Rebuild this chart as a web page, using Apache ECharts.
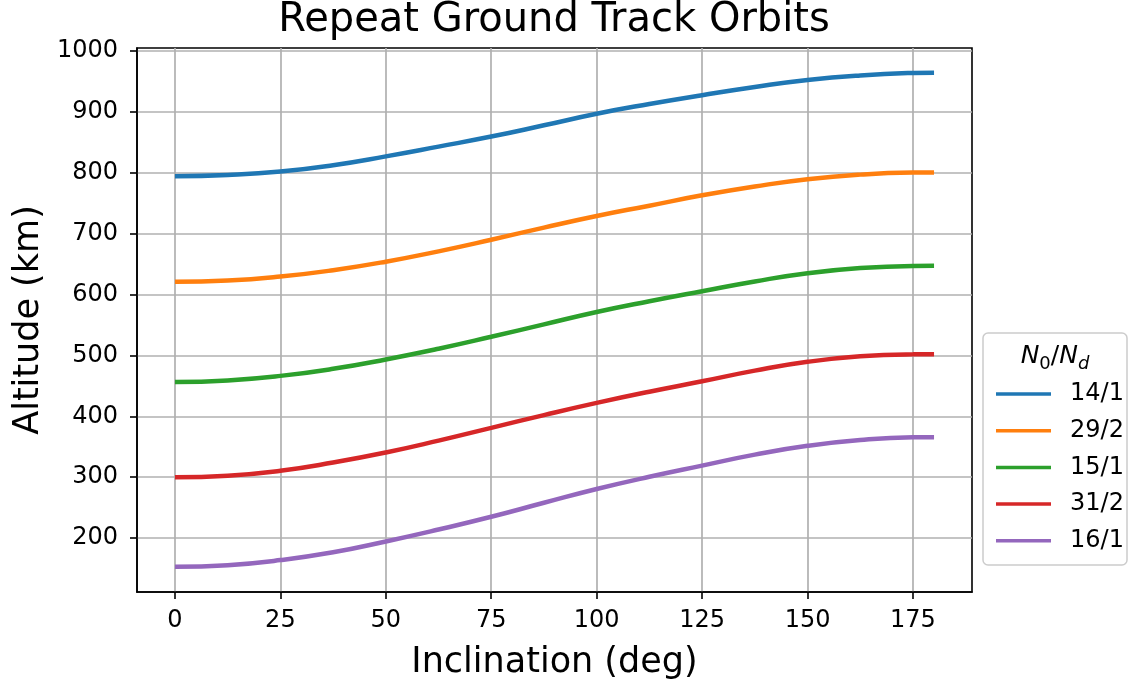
<!DOCTYPE html>
<html>
<head>
<meta charset="utf-8">
<script src="https://cdn.jsdelivr.net/npm/echarts@6/dist/echarts.min.js"></script>
<style>
html,body{margin:0;padding:0;background:#fff;}
#chart{width:1128px;height:684px;}
</style>
</head>
<body>
<div id="chart"></div>
<script>
// Data
const inclination = [0, 12.5, 25, 37.5, 50, 62.5, 75, 87.5, 100, 112.5, 125, 137.5, 150, 162.5, 175, 180];
const alt14_1 = [794.5, 796.5, 802, 812.5, 827, 843, 859.5, 878, 897, 913, 927.5, 941, 952.5, 960, 964, 964.5];
const alt29_2 = [621, 623, 629.5, 640, 654, 671, 690, 710, 729, 746, 763, 777.5, 789.5, 797, 800.3, 800.5];
const alt15_1 = [456.5, 459, 466.4, 478, 493.4, 511, 530.6, 551, 571.3, 589, 605.5, 621.5, 635, 643.5, 647, 647.2];
const alt31_2 = [300, 302.5, 310.5, 324, 340.5, 360, 381, 402, 422, 440.4, 457.5, 475, 489.5, 498.5, 501.8, 502];
const alt16_1 = [152.7, 155.5, 163.8, 176.6, 194.4, 214, 235, 258, 280.6, 300.7, 319, 337, 351.5, 361, 365.4, 365.6];
const seriesNames = ['14/1', '29/2', '15/1', '31/2', '16/1'];
const seriesValues = [alt14_1, alt29_2, alt15_1, alt31_2, alt16_1];
const colors = ['#1f77b4', '#ff7f0e', '#2ca02c', '#d62728', '#9467bd'];
const xTicks = [0, 25, 50, 75, 100, 125, 150, 175];
const yTicks = [200, 300, 400, 500, 600, 700, 800, 900, 1000];

const FONT = 'DejaVu Sans';
const chart = echarts.init(document.getElementById('chart'), null, {renderer: 'canvas'});

const series = seriesNames.map((name, k) => ({
  name: name,
  type: 'line',
  data: inclination.map((x, i) => [x, seriesValues[k][i]]),
  smooth: true,
  symbol: 'none',
  lineStyle: {color: colors[k], width: 4.5, cap: 'butt'},
  itemStyle: {color: colors[k]},
  emphasis: {disabled: true},
  z: 3
}));

const option = {
  animation: false,
  backgroundColor: '#ffffff',
  textStyle: {fontFamily: FONT},
  grid: {
    left: 137, right: 156, top: 48, bottom: 92,
    outerBoundsMode: 'none', containLabel: false,
    show: true, borderColor: '#000', borderWidth: 1.6, backgroundColor: 'transparent'
  },
  xAxis: {
    type: 'value', min: -9, max: 189,
    name: 'Inclination (deg)', nameLocation: 'middle', nameGap: 53,
    nameTextStyle: {fontSize: 35, color: '#000', fontFamily: FONT},
    axisLine: {show: true, onZero: false, lineStyle: {color: '#000', width: 1.6}},
    axisTick: {show: true, length: 7, lineStyle: {color: '#000', width: 1.6}, customValues: xTicks},
    axisLabel: {fontSize: 24, color: '#000', margin: 17, fontFamily: FONT, customValues: xTicks},
    splitLine: {show: true, lineStyle: {color: '#b0b0b0', width: 1.7}}
  },
  yAxis: {
    type: 'value', min: 111.4, max: 1005,
    name: 'Altitude (km)', nameLocation: 'middle', nameGap: 91,
    nameTextStyle: {fontSize: 35, color: '#000', fontFamily: FONT},
    axisLine: {show: true, onZero: false, lineStyle: {color: '#000', width: 1.6}},
    axisTick: {show: true, length: 7, lineStyle: {color: '#000', width: 1.6}, customValues: yTicks},
    axisLabel: {fontSize: 24, color: '#000', margin: 19, fontFamily: FONT, customValues: yTicks,
                formatter: v => String(v)},
    splitLine: {show: true, lineStyle: {color: '#b0b0b0', width: 1.7}}
  },
  legend: {
    orient: 'vertical',
    left: 991, top: 377, z: 20,
    itemWidth: 55, itemHeight: 25, itemGap: 12.7,
    icon: 'path://M0,11 L55,11 L55,14.5 L0,14.5 Z',
    selectedMode: false,
    textStyle: {fontSize: 24, color: '#000', fontFamily: FONT, padding: [0, 0, 0, 14]},
    data: seriesNames
  },
  graphic: [
    {
      type: 'text', x: 554, y: 21, z: 10,
      style: {text: 'Repeat Ground Track Orbits', font: '40px "DejaVu Sans"', fill: '#000',
              textAlign: 'center', textVerticalAlign: 'middle'}
    },
    {
      type: 'rect', z: 1,
      shape: {x: 983, y: 333, width: 144, height: 232, r: 5},
      style: {fill: '#ffffff', stroke: '#cccccc', lineWidth: 1.5}
    },
    {
      type: 'text', x: 1055, y: 356, z: 10,
      style: {
        text: '{i|N}{s|0}{n|/}{i|N}{si|d}',
        textAlign: 'center', textVerticalAlign: 'middle',
        rich: {
          i: {fontSize: 25, fontStyle: 'italic', fontFamily: FONT, fill: '#000', lineHeight: 34, verticalAlign: 'middle'},
          n: {fontSize: 25, fontFamily: FONT, fill: '#000', lineHeight: 34, verticalAlign: 'middle'},
          s: {fontSize: 18, fontFamily: FONT, fill: '#000', lineHeight: 34, verticalAlign: 'bottom'},
          si: {fontSize: 18, fontStyle: 'italic', fontFamily: FONT, fill: '#000', lineHeight: 34, verticalAlign: 'bottom'}
        }
      }
    }
  ],
  series: series
};
chart.setOption(option);
</script>
</body>
</html>
